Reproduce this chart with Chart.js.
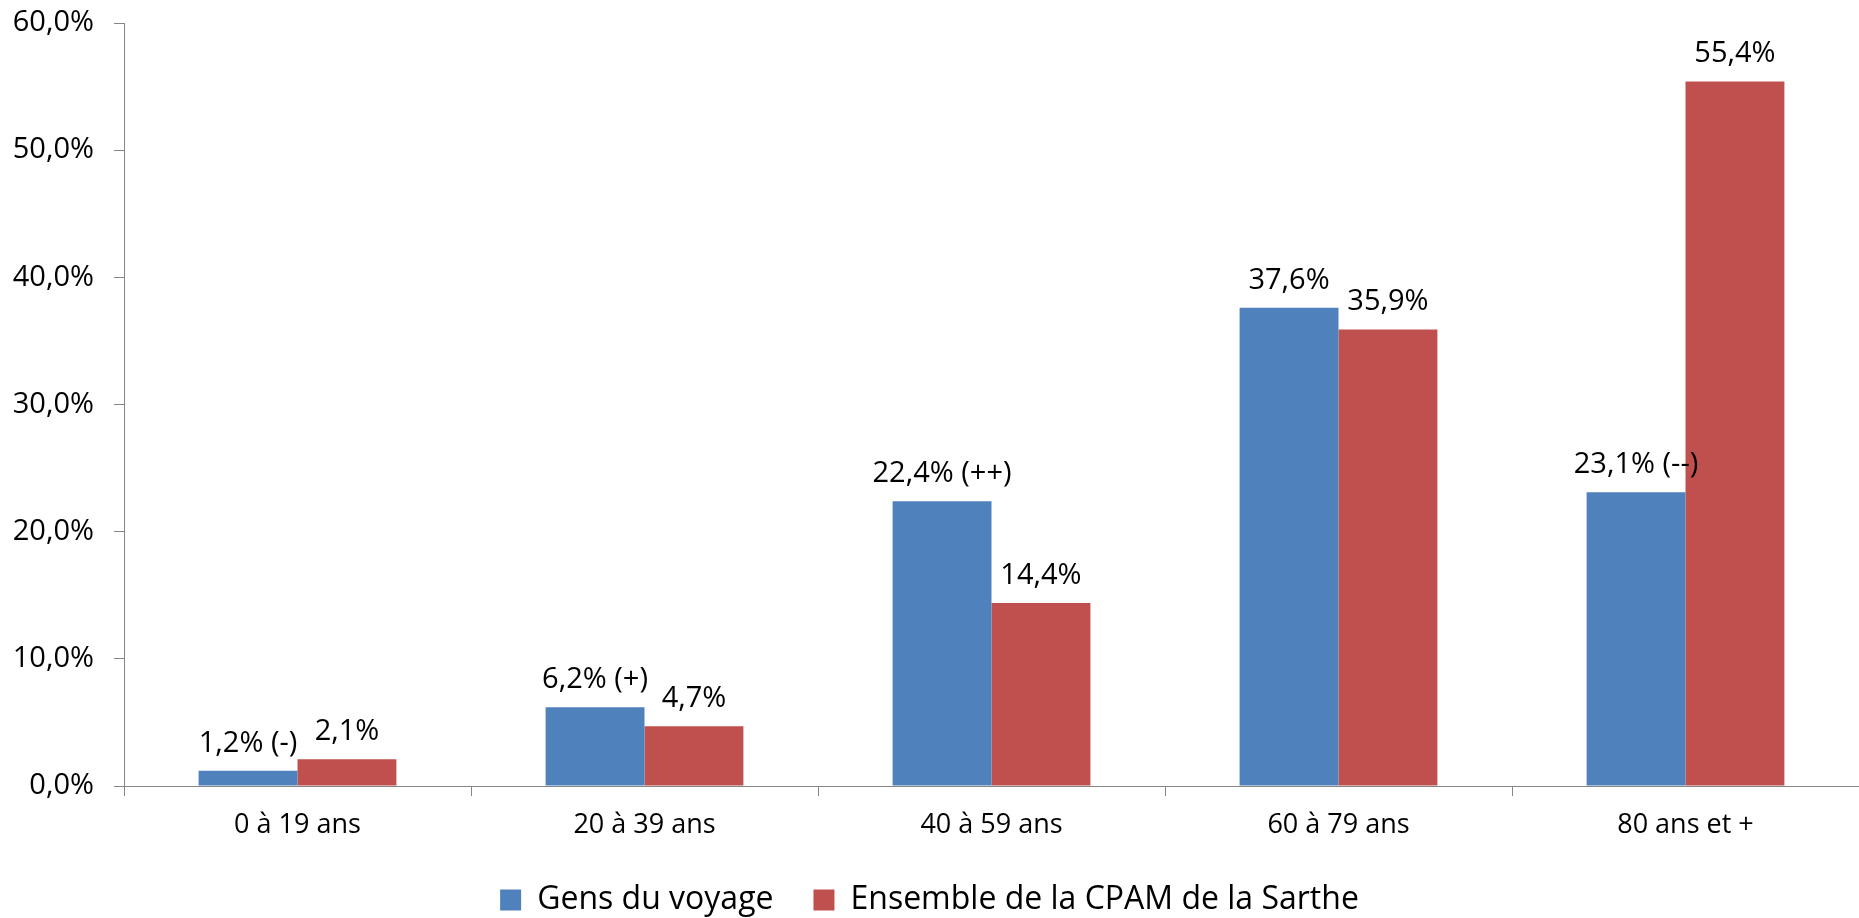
<!DOCTYPE html>
<html>
<head>
<meta charset="utf-8">
<script src="https://cdn.jsdelivr.net/npm/chart.js@4.4.1/dist/chart.umd.min.js"></script>
<style>
  html, body { margin: 0; padding: 0; background: #fff; }
  #wrap { width: 1859px; height: 918px; position: relative; }
</style>
</head>
<body>
<div id="wrap"><canvas id="chart"></canvas></div>
<script>
// Age groups
const categories = ['0 à 19 ans', '20 à 39 ans', '40 à 59 ans', '60 à 79 ans', '80 ans et +'];

// Series values (%)
const gensDuVoyage = [1.2, 6.2, 22.4, 37.6, 23.1];
const ensembleCpam = [2.1, 4.7, 14.4, 35.9, 55.4];

// Label suffixes shown after the value (significance marks)
const gensSuffix = [' (-)', ' (+)', ' (++)', '', ' (--)'];
const cpamSuffix = ['', '', '', '', ''];

const seriesNames = ['Gens du voyage', 'Ensemble de la CPAM de la Sarthe'];

const AXIS_GREY = '#868686';
const FONT = "'Open Sans', 'Noto Sans', sans-serif";

const fmtPct = v => v.toFixed(1).replace('.', ',') + '%';

// draws the value labels above every bar
const barLabels = {
    id: 'barLabels',
    afterDatasetsDraw(chart) {
        const ctx = chart.ctx;
        ctx.save();
        ctx.font = '29px ' + FONT;
        ctx.fillStyle = '#000';
        ctx.textAlign = 'center';
        ctx.textBaseline = 'alphabetic';
        chart.data.datasets.forEach((ds, i) => {
            const meta = chart.getDatasetMeta(i);
            meta.data.forEach((bar, j) => {
                const txt = fmtPct(ds.data[j]) + ds.suffix[j];
                ctx.fillText(txt, bar.x, bar.y - 19);
            });
        });
        ctx.restore();
    }
};

new Chart(document.getElementById('chart'), {
    type: 'bar',
    data: {
        labels: categories,
        datasets: [
            {
                label: seriesNames[0],
                data: gensDuVoyage,
                suffix: gensSuffix,
                backgroundColor: '#4F81BD'
            },
            {
                label: seriesNames[1],
                data: ensembleCpam,
                suffix: cpamSuffix,
                backgroundColor: '#C0504D'
            }
        ]
    },
    options: {
        responsive: true,
        maintainAspectRatio: false,
        animation: false,
        layout: { padding: { top: 23, right: 0, left: 0, bottom: 0 } },
        plugins: {
            legend: {
                position: 'bottom',
                maxHeight: 74,
                labels: {
                    color: '#000',
                    boxWidth: 21,
                    boxHeight: 21,
                    padding: 40,
                    font: { family: FONT, size: 32 }
                }
            },
            tooltip: { enabled: false }
        },
        datasets: {
            bar: { categoryPercentage: 0.57, barPercentage: 1.0 }
        },
        scales: {
            x: {
                offset: true,
                grid: {
                    offset: true,
                    drawOnChartArea: false,
                    drawTicks: true,
                    tickLength: 10,
                    color: AXIS_GREY
                },
                border: { color: AXIS_GREY, width: 1 },
                ticks: {
                    color: '#000',
                    padding: 13,
                    font: { family: FONT, size: 27 }
                },
                afterFit(scale) { scale.height = 58; }
            },
            y: {
                min: 0,
                max: 60,
                ticks: {
                    stepSize: 10,
                    color: '#000',
                    padding: 20,
                    font: { family: FONT, size: 29 },
                    callback: v => fmtPct(v)
                },
                grid: {
                    drawOnChartArea: false,
                    drawTicks: true,
                    tickLength: 10,
                    color: AXIS_GREY
                },
                border: { color: AXIS_GREY, width: 1 },
                afterFit(scale) {
                    scale.width = 124;
                    scale.paddingTop = 0;
                    scale.paddingBottom = 0;
                }
            }
        }
    },
    plugins: [barLabels]
});
</script>
</body>
</html>
